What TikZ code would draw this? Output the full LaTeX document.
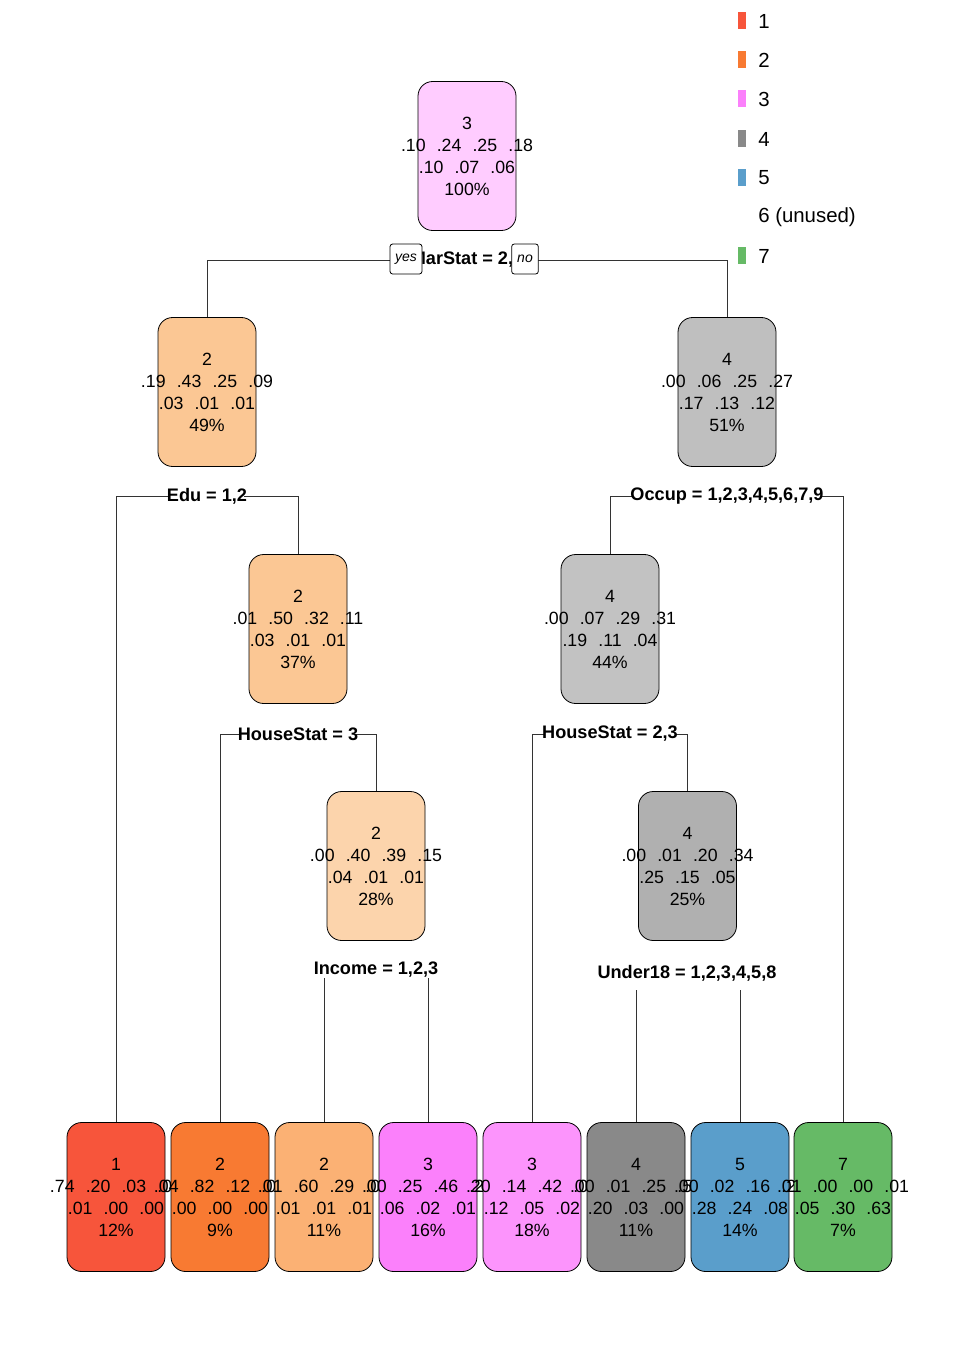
\documentclass[tikz,border=0pt]{standalone}
\usepackage{fontspec}
\setmainfont{Liberation Sans}
\usetikzlibrary{backgrounds}

% fill colours of the tree nodes
\definecolor{rootc}{HTML}{FFCCFF}
\definecolor{ltorange}{HTML}{FBC794}
\definecolor{paleorange}{HTML}{FCD4AC}
\definecolor{ltgray}{HTML}{BFBFBF}
\definecolor{midgray}{HTML}{C2C2C2}
\definecolor{dkgray}{HTML}{B0B0B0}
\definecolor{leafA}{HTML}{F7553B}
\definecolor{leafB}{HTML}{F87A32}
\definecolor{leafC}{HTML}{FBB174}
\definecolor{leafD}{HTML}{FB80FB}
\definecolor{leafE}{HTML}{FC94FC}
\definecolor{leafF}{HTML}{898989}
\definecolor{leafG}{HTML}{5A9ECB}
\definecolor{leafH}{HTML}{66BA66}
\definecolor{edgec}{HTML}{333333}

% gap between class probabilities in a row
\newcommand{\gapp}{\hspace{8.35pt}}
% four centred lines: class, two rows of probabilities, share
\newcommand{\nodetxt}[4]{\makebox[0pt]{#1}\\\makebox[0pt]{#2}\\\makebox[0pt]{#3}\\\makebox[0pt]{#4}}

\tikzset{
  treenode/.style={draw=black, line width=0.6pt, rounded corners=11pt,
    minimum width=73.5pt, minimum height=111.75pt, text width=73.5pt,
    inner sep=0pt, align=center, font=\fontsize{13.3}{16.5}\selectfont},
  splitlbl/.style={fill=white, inner xsep=-2pt, inner ysep=0.5pt,
    font=\fontsize{13.6}{16}\selectfont\bfseries},
  yesno/.style={draw=black, fill=white, line width=0.6pt, rounded corners=2pt,
    minimum height=22.5pt, inner sep=1pt, font=\fontsize{10.5}{12}\selectfont\itshape},
  legbar/.style={minimum width=6pt, minimum height=12.75pt, inner sep=0pt},
  legtxt/.style={anchor=west, inner sep=0pt, font=\fontsize{15.3}{18}\selectfont},
  edge/.style={draw=edgec, line width=0.6pt}
}

\begin{document}
\begin{tikzpicture}[x=0.75pt, y=-0.75pt]
\useasboundingbox (0,0) rectangle (960,1350);

% legend
\node[legbar, fill=leafA] (k1) at (742,20) {};
\node[legtxt] (t1) at (758,21) {1};
\node[legbar, fill=leafB] (k2) at (742,59) {};
\node[legtxt] (t2) at (758,60) {2};
\node[legbar, fill=leafD] (k3) at (742,98) {};
\node[legtxt] (t3) at (758,99) {3};
\node[legbar, fill=leafF] (k4) at (742,138) {};
\node[legtxt] (t4) at (758,139) {4};
\node[legbar, fill=leafG] (k5) at (742,177) {};
\node[legtxt] (t5) at (758,178) {5};
\node[legtxt] (t6) at (758,217) {6 (unused)};
\node[legbar, fill=leafH] (k7) at (742,255) {};
\node[legtxt] (t7) at (758,256) {7};

% inner nodes
\node[treenode, fill=rootc] (root) at (467,156)
  {\nodetxt{3}{.10\gapp.24\gapp.25\gapp.18}{.10\gapp.07\gapp.06}{100\%}};
\node[treenode, fill=ltorange] (n2) at (207,392)
  {\nodetxt{2}{.19\gapp.43\gapp.25\gapp.09}{.03\gapp.01\gapp.01}{49\%}};
\node[treenode, fill=ltgray] (n4) at (727,392)
  {\nodetxt{4}{.00\gapp.06\gapp.25\gapp.27}{.17\gapp.13\gapp.12}{51\%}};
\node[treenode, fill=ltorange] (n3) at (298,629)
  {\nodetxt{2}{.01\gapp.50\gapp.32\gapp.11}{.03\gapp.01\gapp.01}{37\%}};
\node[treenode, fill=midgray] (n44) at (610,629)
  {\nodetxt{4}{.00\gapp.07\gapp.29\gapp.31}{.19\gapp.11\gapp.04}{44\%}};
\node[treenode, fill=paleorange] (n28) at (376,866)
  {\nodetxt{2}{.00\gapp.40\gapp.39\gapp.15}{.04\gapp.01\gapp.01}{28\%}};
\node[treenode, fill=dkgray] (n25) at (687.5,866)
  {\nodetxt{4}{.00\gapp.01\gapp.20\gapp.34}{.25\gapp.15\gapp.05}{25\%}};

% leaves
\node[treenode, fill=leafA] (l1) at (116,1197)
  {\nodetxt{1}{.74\gapp.20\gapp.03\gapp.01}{.01\gapp.00\gapp.00}{12\%}};
\node[treenode, fill=leafB] (l2) at (220,1197)
  {\nodetxt{2}{.04\gapp.82\gapp.12\gapp.02}{.00\gapp.00\gapp.00}{9\%}};
\node[treenode, fill=leafC] (l3) at (324,1197)
  {\nodetxt{2}{.01\gapp.60\gapp.29\gapp.07}{.01\gapp.01\gapp.01}{11\%}};
\node[treenode, fill=leafD] (l4) at (428,1197)
  {\nodetxt{3}{.00\gapp.25\gapp.46\gapp.20}{.06\gapp.02\gapp.01}{16\%}};
\node[treenode, fill=leafE] (l5) at (532,1197)
  {\nodetxt{3}{.20\gapp.14\gapp.42\gapp.06}{.12\gapp.05\gapp.02}{18\%}};
\node[treenode, fill=leafF] (l6) at (636,1197)
  {\nodetxt{4}{.00\gapp.01\gapp.25\gapp.50}{.20\gapp.03\gapp.00}{11\%}};
\node[treenode, fill=leafG] (l7) at (740,1197)
  {\nodetxt{5}{.00\gapp.02\gapp.16\gapp.22}{.28\gapp.24\gapp.08}{14\%}};
\node[treenode, fill=leafH] (l8) at (843,1197)
  {\nodetxt{7}{.01\gapp.00\gapp.00\gapp.01}{.05\gapp.30\gapp.63}{7\%}};

% split labels
\node[splitlbl] (s1) at (467,260) {MarStat = 2,3};
\node[splitlbl] (s2) at (207,496.5) {Edu = 1,2};
\node[splitlbl] (s3) at (727,496.5) {Occup = 1,2,3,4,5,6,7,9};
\node[splitlbl] (s4) at (298,734) {HouseStat = 3};
\node[splitlbl] (s5) at (610,734) {HouseStat = 2,3};
\node[splitlbl] (s6) at (376,970) {Income = 1,2,3};
\node[splitlbl, inner ysep=5pt] (s7) at (687,974) {\raisebox{3.5pt}{Under18 = 1,2,3,4,5,8}};

% branch tags of the first split
\node[yesno, minimum width=24pt] (yes) at (406,259) {yes};
\node[yesno, minimum width=20pt] (no) at (525,259) {no};

% connectors, kept behind the nodes and labels
\begin{scope}[on background layer]
  \fill[white] (0,0) rectangle (960,1350);
  \draw[edge] (s1.center) -| (n2.north);
  \draw[edge] (s1.center) -| (n4.north);
  \draw[edge] (s2.center) -| (l1.north);
  \draw[edge] (s2.center) -| (n3.north);
  \draw[edge] (s3.center) -| (n44.north);
  \draw[edge] (s3.center) -| (l8.north);
  \draw[edge] (s4.center) -| (l2.north);
  \draw[edge] (s4.center) -| (n28.north);
  \draw[edge] (s5.center) -| (l5.north);
  \draw[edge] (s5.center) -| (n25.north);
  \draw[edge] (s6.center) -| (l3.north);
  \draw[edge] (s6.center) -| (l4.north);
  \draw[edge] (s7.center) -| (l6.north);
  \draw[edge] (s7.center) -| (l7.north);
\end{scope}
\end{tikzpicture}
\end{document}
